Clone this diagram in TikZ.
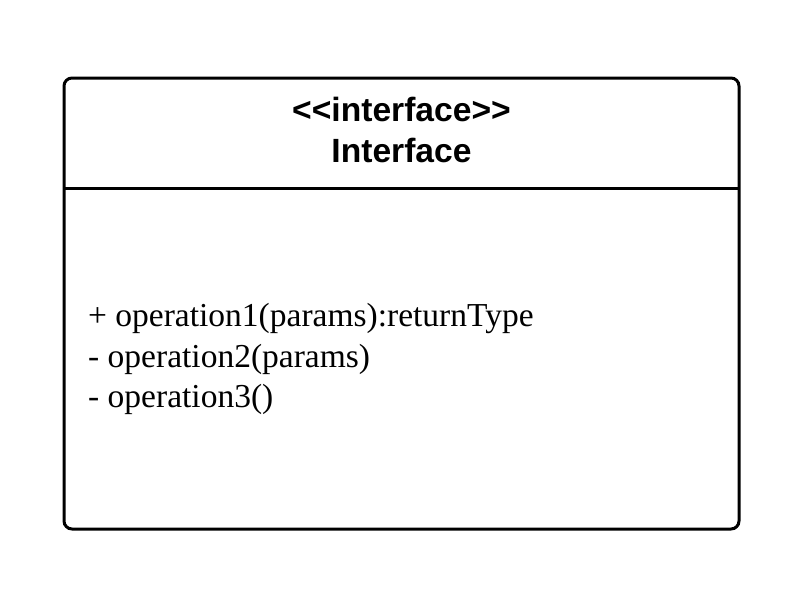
\documentclass[tikz,border=0pt]{standalone}
\usepackage{fontspec}
\setmainfont{Liberation Serif}
% plain family without TeX ligatures so that << stays two characters
\newfontfamily\headfont{Liberation Sans}
\begin{document}
\begin{tikzpicture}[x=1pt,y=-1pt,
  frame/.style={draw=black, line width=3pt, rounded corners=8pt},
  divider/.style={draw=black, line width=3pt},
  titletext/.style={font=\headfont\bfseries\fontsize{33.6}{40}\selectfont, anchor=base, inner sep=0pt},
  optext/.style={font=\fontsize{33.5}{40}\selectfont, anchor=base west, inner sep=0pt}]
  \useasboundingbox (0,0) rectangle (804,611);
  % class box
  \draw[frame] (64,78) rectangle (739,529);
  \coordinate (divL) at (64,188);
  \coordinate (divR) at (739,188);
  \draw[divider] (divL) -- (divR);
  % header
  \node[titletext] (stereo) at (401.5,121) {<<interface>>};
  \node[titletext] (name) at (401.5,162) {Interface};
  % operations
  \node[optext] (op1) at (88,326) {+ operation1(params):returnType};
  \node[optext] (op2) at (88,367) {- operation2(params)};
  \node[optext] (op3) at (88,407) {- operation3()};
\end{tikzpicture}
\end{document}
